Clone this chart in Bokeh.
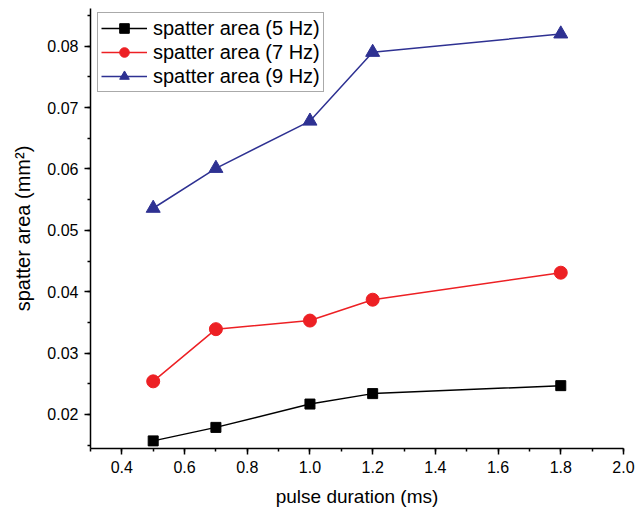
from bokeh.plotting import figure
from bokeh.models import Range1d, SingleIntervalTicker, NumeralTickFormatter, Legend, LegendItem
from bokeh.embed import file_html
from bokeh.resources import INLINE

pulse = [0.5, 0.7, 1.0, 1.2, 1.8]
area_5hz = [0.0157, 0.0179, 0.0217, 0.0234, 0.0247]
area_7hz = [0.0254, 0.0339, 0.0353, 0.0387, 0.0431]
area_9hz = [0.0536, 0.0601, 0.0678, 0.0790, 0.0820]
labels = ["spatter area (5 Hz)", "spatter area (7 Hz)", "spatter area (9 Hz)"]

FONT = "Liberation Sans"

p = figure(width=635, height=510, output_backend="svg", toolbar_location=None,
           x_range=Range1d(0.3, 2.0001), y_range=Range1d(0.01446, 0.08614),
           min_border_left=90, min_border_right=12, min_border_top=8, min_border_bottom=62)
p.outline_line_color = None
p.xgrid.visible = False
p.ygrid.visible = False
p.background_fill_color = "white"

for ax in (p.xaxis[0], p.yaxis[0]):
    ax.axis_line_width = 1.5
    ax.axis_line_color = "black"
    ax.major_tick_line_width = 1.5
    ax.minor_tick_line_width = 1.5
    ax.major_tick_out = 6
    ax.major_tick_in = 0
    ax.minor_tick_out = 3
    ax.minor_tick_in = 0
    ax.major_label_text_font = FONT
    ax.major_label_text_font_size = "16px"
    ax.major_label_text_color = "black"
    ax.axis_label_text_font = FONT
    ax.axis_label_text_font_size = "19px"
    ax.axis_label_text_font_style = "normal"
    ax.axis_label_text_color = "black"

p.xaxis.ticker = SingleIntervalTicker(interval=0.2, num_minor_ticks=2)
p.yaxis.ticker = SingleIntervalTicker(interval=0.01, num_minor_ticks=2)
p.xaxis.formatter = NumeralTickFormatter(format="0.0")
p.yaxis.formatter = NumeralTickFormatter(format="0.00")
p.xaxis.axis_label = "pulse duration (ms)"
p.yaxis.axis_label = "spatter area (mm²)"
p.yaxis.axis_label_text_font_size = "20px"
p.xaxis.major_label_standoff = 6
p.yaxis.major_label_standoff = 6
p.xaxis.axis_label_standoff = 10
p.yaxis.axis_label_standoff = 10

colors = ["black", "#ED2024", "#2E3192"]
series = [area_5hz, area_7hz, area_9hz]
markers = ["square", "circle", "triangle"]
sizes = [10, 13, 14]
items = []
for vals, c, m, s, lab in zip(series, colors, markers, sizes, labels):
    l = p.line(pulse, vals, line_color=c, line_width=1.5)
    sc = p.scatter(pulse, vals, marker=m, size=s, fill_color=c, line_color=c)
    items.append(LegendItem(label=lab, renderers=[l, sc]))

legend = Legend(items=items, location=(7, 356))
legend.label_text_font = FONT
legend.label_text_font_size = "20px"
legend.label_text_color = "black"
legend.border_line_color = "#555555"
legend.border_line_width = 1.2
legend.background_fill_color = "white"
legend.background_fill_alpha = 1
legend.glyph_width = 46
legend.glyph_height = 24
legend.label_height = 24
legend.spacing = 0
legend.padding = 3
legend.margin = 0
legend.label_standoff = 6
p.add_layout(legend, "center")

open("out.html", "w").write(file_html(p, INLINE))
